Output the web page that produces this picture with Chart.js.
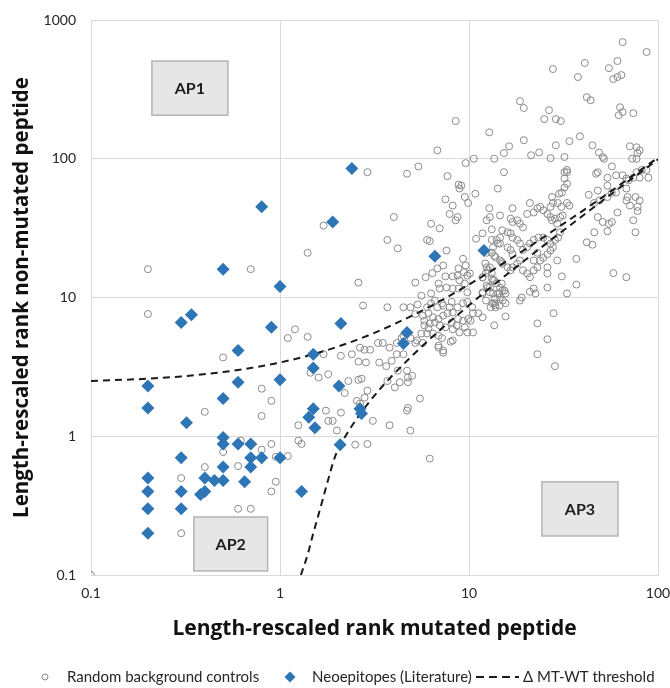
<!DOCTYPE html>
<html><head><meta charset="utf-8">
<script src="https://cdn.jsdelivr.net/npm/chart.js@4.4.1/dist/chart.umd.min.js"></script>
<style>html,body{margin:0;padding:0;background:#fff}canvas{display:block}</style>
</head><body>
<canvas id="c" width="670" height="688"></canvas>
<script>
// ---- tick labels ----
const xTicks = [0.1, 1, 10, 100];
const yTicks = [0.1, 1, 10, 100, 1000];

// ---- series: random background controls [mutated rank, non-mutated rank] ----
const bgPairs = [
[0.2,16],[0.7,16],[1.4,21],[1.7,33],[0.2,7.6],[1.1,5.1],[1.2,5.9],[1.4,5.2],[0.5,3.7],[0.8,2.2],
[0.9,1.8],[0.4,1.5],[0.8,1.4],[1.25,1.2],[0.62,0.93],[0.9,0.88],[1.25,0.93],[1.3,0.88],[0.5,0.77],[0.6,0.61],
[0.4,0.6],[0.95,0.71],[1.1,0.72],[0.8,0.8],[0.3,0.5],[0.95,0.47],[0.9,0.4],[0.6,0.3],[0.7,0.3],[0.3,0.2],
[0.1,0.1],[2.9,80],[4.7,78],[5.4,88],[7.7,75],[8.8,65],[9.1,64],[8.9,61],[9.6,93],[10.6,100],
[8.5,187],[6.8,115],[10.8,56],[9.5,53],[9.9,48],[7.5,51],[8.2,46],[7.9,40],[8.7,38],[8.5,36],
[4.0,38],[6.3,34],[7.0,31.5],[3.7,26],[6.0,26],[6.2,25.5],[10.9,26.5],[4.2,22.6],[7.6,21.8],[9.3,19],
[7.3,17],[6.8,16.2],[6.4,15],[5.9,14],[5.2,12.8],[9.6,17],[8.8,16.2],[9.4,15.2],[8.7,14.4],[9.8,14.4],
[10.1,14.9],[8.9,13.3],[8.2,14.2],[7.5,14.2],[6.9,12.6],[2.6,12.8],[7.0,11.6],[7.6,11.8],[8.2,11.6],[8.8,11.6],
[9.5,12.6],[9.8,10.9],[5.6,10.3],[6.3,10.7],[2.75,8.75],[3.7,8.5],[4.5,8.5],[4.9,8.5],[5.35,8.9],[6.0,8.5],
[6.6,9.5],[6.8,8.5],[7.3,8.75],[7.9,8.5],[8.7,8.5],[9.3,9.1],[10.4,8.5],[6.3,9.06],[7.2,9.06],[8.1,9.3],
[5.7,7.4],[6.1,7.7],[6.45,7.2],[6.9,7.0],[7.3,7.4],[7.7,7.7],[8.2,7.8],[8.75,7.0],[5.8,6.3],[6.2,6.5],
[6.6,6.6],[7.0,6.3],[7.5,6.1],[8.1,6.6],[8.6,6.3],[6.0,5.5],[6.45,5.5],[6.9,5.3],[7.2,5.1],[5.7,4.7],
[6.9,4.5],[7.3,4.15],[5.2,7.6],[5.8,6.8],[6.1,6.0],[5.6,5.5],[5.2,4.7],[4.4,5.1],[8.2,4.9],[9.8,9.3],
[10.5,7.7],[11.2,7.7],[9.3,6.8],[9.9,7.0],[8.0,4.8],[7.3,4.0],[6.9,4.35],[10.5,5.6],[9.8,5.6],[8.9,5.6],
[8.2,5.9],[9.5,6.1],[10.2,6.8],[11.8,7.2],[5.5,1.87],[13,8.5],[13.6,9.1],[15.6,9.1],[15.6,7.3],[13.6,6.3],
[18.6,9.5],[23,6.5],[28,7.7],[26,5.0],[23,3.9],[28.5,3.2],[6.2,0.69],[3.3,4.7],[3.5,4.7],[3.8,4.35],
[4.15,4.7],[4.5,5.3],[4.9,5.1],[5.3,4.9],[1.7,3.9],[2.1,3.8],[2.4,3.9],[2.65,4.35],[2.8,4.2],[3.0,4.2],
[2.6,3.45],[2.85,3.4],[3.35,3.4],[3.65,3.2],[3.9,3.5],[4.2,2.97],[4.7,2.97],[5.0,2.73],[4.15,3.9],[4.5,3.9],
[1.45,2.87],[1.6,2.65],[1.8,2.8],[2.3,2.5],[2.2,2.05],[2.6,2.55],[2.7,2.6],[2.9,2.13],[2.8,1.9],[3.7,2.5],
[4.05,2.25],[4.3,2.45],[4.75,2.65],[4.75,2.45],[1.75,1.53],[1.8,1.29],[1.9,1.29],[2.1,1.48],[2.55,1.8],[2.65,1.72],
[3.1,1.29],[4.7,1.53],[4.75,1.6],[2.0,1.1],[3.8,1.2],[4.9,1.1],[2.5,0.87],[2.9,0.88],[15.3,80],[14.2,61],
[12.8,44],[17,44],[32,80],[33,80],[32,72],[33,66],[32,62],[31,57],[30,56],[27.5,53],
[27.8,48],[29.5,48],[27,45],[30.8,45],[33,48],[34,46],[43,55],[48,59],[54,64],[54,73],
[47,78],[48,80],[60,76],[65,76],[68,72],[70,70],[77,80],[87,83],[80,73],[74,73],
[46,48],[49,50],[54,53],[57,57],[60,57],[68,61],[69,53],[68,50],[71,46],[78,45],
[76,53],[80,50],[61,41],[48,38],[51,35],[55,34],[57,35],[54,30],[46,29.5],[74,36],
[76,29.5],[78,42],[42,25],[45,24],[37,19],[58,15],[68,14],[37,12.4],[31,14.2],[26,11.8],
[33,10.7],[22.5,10.7],[21,11],[22,11.6],[19,10],[13.8,8.5],[12.9,38],[14.6,39],[16.6,37],[17,35],
[18,36],[18.6,34],[19.3,32],[20.3,40],[21,48],[22,41],[23,44],[23.8,45],[24.7,42.5],[26,40],
[27,38],[27.5,36],[28.5,37],[29.3,34],[30.3,38],[31.3,39],[30.3,29.5],[29.6,27],[28.5,26],[27,24.5],
[26,26],[24.7,27],[23.3,27],[22,26],[21,24.5],[20.3,23],[19.3,22],[18.6,24.5],[18,26],[17,27],
[16.6,29],[16,29.5],[15,30.5],[14.6,27],[14,26],[13.4,23],[13.2,21],[13.8,19.5],[14.6,18.5],[15,17.5],
[16,16.5],[16.6,15.7],[17,16.5],[18,17.5],[18.6,18.5],[19.3,15.7],[20.3,14.9],[21,14],[22,15.7],[23,16.5],
[23.8,18.5],[24.7,19.3],[26,20.5],[27,21.8],[27.8,23],[29.3,18.5],[26,16.5],[26,14.9],[22,18.5],[23,21],
[14.6,24.5],[16,23],[16.6,22],[17,20.5],[12.9,16.5],[12.3,15],[13.4,13.3],[14,12.6],[14.6,11.8],[15,11.2],
[12.9,11.8],[13.4,10.7],[14.6,10],[15.6,10.7],[12.3,9.5],[13.8,8.8],[12.2,17.6],[12.6,15.7],[11.8,13.9],[13.2,13.7],
[12.4,12.2],[11.8,10.9],[12.9,10.9],[13.7,9.8],[14.5,10.7],[15.1,9.5],[13.3,9.06],[14.5,8.75],[65,693],[87,588],
[27.8,443],[41,490],[55,450],[61,506],[58,375],[61,388],[64,401],[37.7,388],[18.6,260],[19.5,232],
[42,278],[44,264],[63,235],[65,217],[62,206],[74,213],[26.5,224],[25,193],[28.8,193],[30.6,187],
[19.5,136],[38.6,145],[34,134],[21.3,106],[23.5,111],[27,101],[32,103],[28.8,125],[45,125],[48.7,111],
[51,103],[51.8,100],[57,88],[71,123],[77,121],[80,115],[78,110],[73,100],[77,100],[33,83],
[12.8,155],[13.6,100],[15.3,110],[16.3,123],[89,73],[82,83],[12.4,36],[13.2,31],[11.8,29],[13.2,26],
[14.2,24.5],[12.4,21],[13.6,20],[14.9,18],[12.4,16.5],[13.2,15],[11.8,14],[13.6,13.3],[14.9,12.6],[12.6,11.9],
[11.8,10.7],[14.2,10.7],[15.4,11.2]
];

// ---- series: neoepitopes (literature) [mutated rank, non-mutated rank] ----
const neoPairs = [
[2.4,85],[0.8,45],[1.9,35],[0.5,16],[1.0,12],[0.3,6.6],[0.34,7.5],[0.9,6.1],[2.1,6.5],[6.6,19.8],
[12,21.8],[0.6,4.15],[0.2,2.3],[0.6,2.45],[1.0,2.55],[1.5,3.9],[1.5,3.1],[2.05,2.3],[0.2,1.6],[0.5,1.87],
[0.32,1.25],[1.5,1.58],[1.42,1.37],[1.53,1.15],[2.65,1.58],[2.7,1.46],[4.5,4.66],[4.7,5.6],[0.5,0.98],[0.5,0.88],
[0.6,0.88],[0.7,0.88],[0.3,0.7],[0.7,0.7],[0.8,0.7],[1.0,0.7],[0.5,0.6],[0.7,0.6],[0.2,0.5],[0.4,0.5],
[0.45,0.48],[0.5,0.48],[0.65,0.47],[0.2,0.4],[0.3,0.4],[0.4,0.4],[0.38,0.38],[1.3,0.4],[0.2,0.3],[0.3,0.3],
[0.2,0.2],[2.08,0.87]
];

// ---- threshold curves ----
const thrUpperX = [0.1, 0.2, 0.3, 0.5, 0.7, 1, 1.5, 2, 3, 5, 7, 10, 20, 30, 50, 70, 100];
const thrUpperY = [2.5, 2.6, 2.7, 2.9, 3.1, 3.4, 3.9, 4.4, 5.4, 7.4, 9.4, 12.4, 22.4, 32.4, 52, 72, 102];
const thrLowerX = [1.29, 1.4, 1.5, 1.62, 1.77, 1.96, 2.15, 3, 5, 10, 20, 50, 100];
const thrLowerY = [0.1, 0.14, 0.2, 0.29, 0.45, 0.72, 0.93, 1.8, 3.8, 8.8, 18.8, 49, 99];

// ---- labels ----
const legendLabels = ['Random background controls', 'Neoepitopes (Literature)', '\u0394 MT-WT threshold'];
const regionLabels = ['AP1', 'AP2', 'AP3'];
const regionX = [[0.21, 0.53], [0.35, 0.86], [24.3, 61.4]];
const regionY = [[206, 506], [0.107, 0.262], [0.191, 0.469]];

const BLUE = '#2E75B6';
const GREY = '#8a8a8a';
const FONT = 'Lato, "Open Sans", sans-serif';
const TFONT = '"Open Sans", Lato, sans-serif';

const toXY = p => ({x: p[0], y: p[1]});
const zip = (xs, ys) => xs.map((v, i) => ({x: v, y: ys[i]}));

const regionPlugin = {
  id: 'regions',
  afterDatasetsDraw(chart) {
    const {ctx, scales: {x, y}} = chart;
    ctx.save();
    regionLabels.forEach((lab, i) => {
      const x0 = x.getPixelForValue(regionX[i][0]), x1 = x.getPixelForValue(regionX[i][1]);
      const y0 = y.getPixelForValue(regionY[i][1]), y1 = y.getPixelForValue(regionY[i][0]);
      ctx.fillStyle = '#e6e6e6';
      ctx.strokeStyle = '#b4b4b4';
      ctx.lineWidth = 1.5;
      ctx.fillRect(x0, y0, x1 - x0, y1 - y0);
      ctx.strokeRect(x0, y0, x1 - x0, y1 - y0);
      ctx.fillStyle = '#1e1e1e';
      ctx.font = 'bold 16px ' + FONT;
      ctx.textAlign = 'center';
      ctx.textBaseline = 'middle';
      ctx.fillText(lab, (x0 + x1) / 2, (y0 + y1) / 2 + 1);
    });
    ctx.restore();
  }
};

const legendPlugin = {
  id: 'customLegend',
  afterDraw(chart) {
    const ctx = chart.ctx;
    const cy = 677;
    ctx.save();
    ctx.font = '15px ' + FONT;
    ctx.fillStyle = '#262626';
    ctx.textBaseline = 'middle';
    ctx.textAlign = 'left';
    ctx.strokeStyle = GREY; ctx.lineWidth = 1;
    ctx.beginPath(); ctx.arc(45, cy, 3, 0, Math.PI * 2); ctx.stroke();
    ctx.fillText(legendLabels[0], 67, cy);
    ctx.fillStyle = BLUE;
    ctx.beginPath();
    ctx.moveTo(290, cy - 5.5); ctx.lineTo(295.5, cy); ctx.lineTo(290, cy + 5.5); ctx.lineTo(284.5, cy);
    ctx.closePath(); ctx.fill();
    ctx.fillStyle = '#262626';
    ctx.fillText(legendLabels[1], 312, cy);
    ctx.strokeStyle = '#1a1a1a'; ctx.lineWidth = 2; ctx.setLineDash([8, 5]);
    ctx.beginPath(); ctx.moveTo(476, cy); ctx.lineTo(519, cy); ctx.stroke();
    ctx.setLineDash([]);
    ctx.fillText(legendLabels[2], 523, cy);
    ctx.restore();
  }
};

new Chart(document.getElementById('c'), {
  type: 'scatter',
  data: {
    datasets: [
      {
        label: legendLabels[1],
        data: neoPairs.map(toXY),
        pointStyle: 'rectRot',
        pointRadius: 6.5,
        pointHoverRadius: 6.5,
        backgroundColor: BLUE,
        borderColor: BLUE,
        borderWidth: 0,
        order: 0
      },
      {
        type: 'line',
        label: legendLabels[2],
        data: zip(thrUpperX, thrUpperY),
        borderColor: '#1a1a1a',
        borderWidth: 2,
        borderDash: [7, 5],
        pointRadius: 0,
        fill: false,
        cubicInterpolationMode: 'monotone',
        order: 1
      },
      {
        type: 'line',
        label: legendLabels[2] + ' (lower)',
        data: zip(thrLowerX, thrLowerY),
        borderColor: '#1a1a1a',
        borderWidth: 2,
        borderDash: [7, 5],
        pointRadius: 0,
        fill: false,
        cubicInterpolationMode: 'monotone',
        order: 1
      },
      {
        label: legendLabels[0],
        data: bgPairs.map(toXY),
        pointStyle: 'circle',
        pointRadius: 3.5,
        pointHoverRadius: 3.5,
        backgroundColor: 'rgba(255,255,255,0)',
        borderColor: GREY,
        borderWidth: 1,
        order: 2
      }
    ]
  },
  options: {
    responsive: false,
    animation: false,
    events: [],
    layout: {padding: {left: 0, right: 12, top: 20, bottom: 43}},
    plugins: {legend: {display: false}, tooltip: {enabled: false}},
    scales: {
      x: {
        type: 'logarithmic',
        min: 0.1, max: 100,
        afterBuildTicks: s => { s.ticks = xTicks.map(v => ({value: v})); },
        afterFit: s => { s.height = 70; s.paddingLeft = 0; s.paddingRight = 0; },
        ticks: {
          callback: v => String(v),
          color: '#262626',
          font: {family: FONT, size: 14},
          padding: 10,
          maxRotation: 0
        },
        grid: {color: '#d9d9d9', lineWidth: 1, drawTicks: false},
        border: {display: true, color: '#d9d9d9'},
        title: {
          display: true,
          text: 'Length-rescaled rank mutated peptide',
          color: '#111',
          font: {family: TFONT, size: 21, weight: 'bold'},
          padding: {top: 0, bottom: 3}
        }
      },
      y: {
        type: 'logarithmic',
        min: 0.1, max: 1000,
        afterBuildTicks: s => { s.ticks = yTicks.map(v => ({value: v})); },
        afterFit: s => { s.width = 91; s.paddingTop = 0; s.paddingBottom = 0; },
        ticks: {
          callback: v => String(v),
          color: '#262626',
          font: {family: FONT, size: 14},
          padding: 15
        },
        grid: {color: '#d9d9d9', lineWidth: 1, drawTicks: false},
        border: {display: true, color: '#d9d9d9'},
        title: {
          display: true,
          text: 'Length-rescaled rank non-mutated peptide',
          color: '#111',
          font: {family: TFONT, size: 20.5, weight: 'bold'},
          padding: {top: 10, bottom: 0}
        }
      }
    }
  },
  plugins: [regionPlugin, legendPlugin]
});
</script>
</body></html>
